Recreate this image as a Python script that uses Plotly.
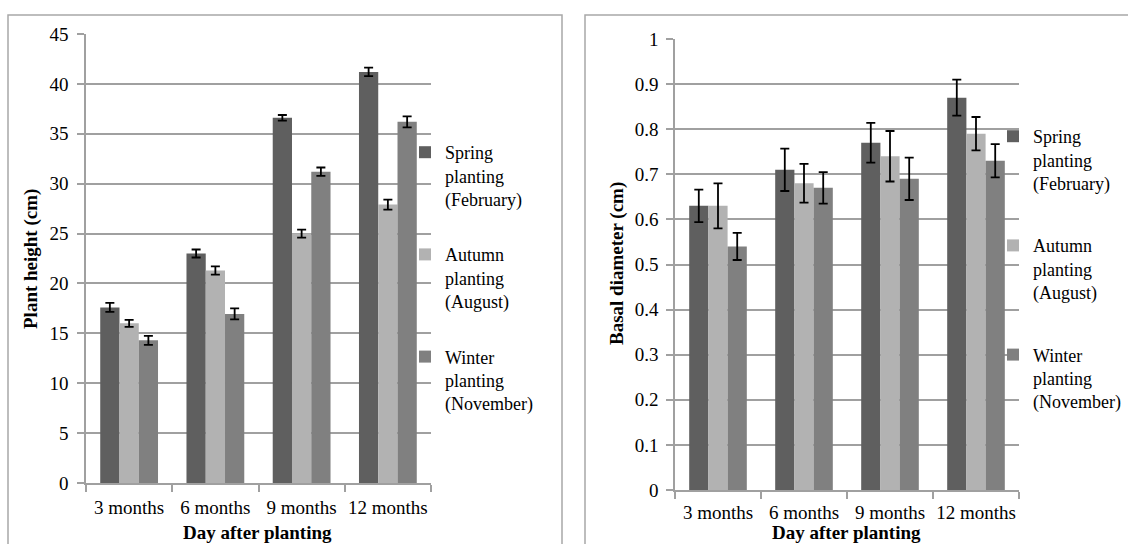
import plotly.graph_objects as go

categories = ["3 months", "6 months", "9 months", "12 months"]
series_names = ["Spring<br>planting<br>(February)", "Autumn<br>planting<br>(August)", "Winter<br>planting<br>(November)"]

height_spring = [17.6, 23.0, 36.6, 41.2]
height_autumn = [16.0, 21.3, 25.0, 27.9]
height_winter = [14.3, 16.95, 31.2, 36.2]
height_err_spring = [0.45, 0.4, 0.28, 0.42]
height_err_autumn = [0.35, 0.42, 0.4, 0.5]
height_err_winter = [0.45, 0.55, 0.42, 0.55]

diam_spring = [0.63, 0.71, 0.77, 0.87]
diam_autumn = [0.63, 0.68, 0.74, 0.79]
diam_winter = [0.54, 0.67, 0.69, 0.73]
diam_err_spring = [0.036, 0.047, 0.044, 0.04]
diam_err_autumn = [0.05, 0.043, 0.056, 0.037]
diam_err_winter = [0.03, 0.035, 0.047, 0.037]

colors = ["#5f5f5f", "#b2b2b2", "#808080"]

W, H = 1128, 544
FONT = "Liberation Serif"

fig = go.Figure()

left_vals = [height_spring, height_autumn, height_winter]
left_errs = [height_err_spring, height_err_autumn, height_err_winter]
right_vals = [diam_spring, diam_autumn, diam_winter]
right_errs = [diam_err_spring, diam_err_autumn, diam_err_winter]

for i in range(3):
    fig.add_trace(go.Bar(
        x=categories, y=left_vals[i], name=series_names[i],
        marker=dict(color=colors[i], line=dict(width=0)),
        error_y=dict(type="data", array=left_errs[i], color="black", thickness=1.8, width=4.5),
        xaxis="x", yaxis="y", legend="legend", legendgroup="L%d" % i,
    ))
for i in range(3):
    fig.add_trace(go.Bar(
        x=categories, y=right_vals[i], name=series_names[i],
        marker=dict(color=colors[i], line=dict(width=0)),
        error_y=dict(type="data", array=right_errs[i], color="black", thickness=1.8, width=4.5),
        xaxis="x2", yaxis="y2", legend="legend2", legendgroup="R%d" % i,
    ))

def px(x):
    return x / W

def py(y):
    return 1 - y / H

grid = "#a0a0a0"

def tf():
    return dict(family=FONT, size=19, color="black")

def xcommon():
    return dict(
        type="category", showline=True, linecolor=grid, linewidth=1.5,
        ticks="outside", tickson="boundaries", ticklen=7, tickcolor=grid, tickwidth=1.5,
        tickfont=tf(), showgrid=False, fixedrange=True, range=[-0.5, 3.5], tickangle=0,
        automargin=False,
    )

def ycommon():
    return dict(
        showline=True, linecolor=grid, linewidth=1.5, ticks="outside", ticklen=7,
        tickcolor=grid, tickwidth=1.5, showgrid=True, gridcolor=grid, gridwidth=1.5,
        tickfont=tf(), zeroline=False, automargin=False,
    )

fig.update_layout(
    width=W, height=H,
    margin=dict(l=0, r=0, t=0, b=0, autoexpand=False),
    paper_bgcolor="white", plot_bgcolor="white",
    barmode="group", bargap=0.33, bargroupgap=0,
    font=dict(family=FONT, size=19, color="black"),
    xaxis=dict(domain=[px(86), px(431)], anchor="y", ticklabelstandoff=6, **xcommon()),
    yaxis=dict(domain=[py(483), py(34)], anchor="x", range=[0, 45], dtick=5,
               ticklabelstandoff=5, **ycommon()),
    xaxis2=dict(domain=[px(675), px(1019)], anchor="y2", ticklabelstandoff=4, **xcommon()),
    yaxis2=dict(domain=[py(490), py(39)], anchor="x2", range=[0, 1], dtick=0.1,
                tickformat=".1~f", ticklabelstandoff=4, **ycommon()),
    legend=dict(x=px(405), y=py(134), xanchor="left", yanchor="top",
                font=dict(family=FONT, size=18, color="black"), valign="top",
                tracegroupgap=29, bgcolor="rgba(0,0,0,0)", traceorder="grouped"),
    legend2=dict(x=px(993), y=py(118), xanchor="left", yanchor="top",
                 font=dict(family=FONT, size=18, color="black"), valign="top",
                 tracegroupgap=36, bgcolor="rgba(0,0,0,0)", traceorder="grouped"),
    showlegend=True,
)

# panel borders
fig.add_shape(type="rect", xref="paper", yref="paper", x0=px(8), x1=px(562), y0=py(570), y1=py(15),
              line=dict(color="#a8a8a8", width=1.5), fillcolor="rgba(0,0,0,0)", layer="below")
fig.add_shape(type="rect", xref="paper", yref="paper", x0=px(585), x1=px(1150), y0=py(570), y1=py(15),
              line=dict(color="#a8a8a8", width=1.5), fillcolor="rgba(0,0,0,0)", layer="below")

# axis titles
tfont = dict(family=FONT, size=19, color="black")
fig.add_annotation(text="<b>Plant height (cm)</b>", xref="paper", yref="paper", x=px(31), y=py(259),
                   xanchor="center", yanchor="middle", textangle=-90, showarrow=False, font=tfont)
fig.add_annotation(text="<b>Basal diameter (cm)</b>", xref="paper", yref="paper", x=px(617), y=py(264),
                   xanchor="center", yanchor="middle", textangle=-90, showarrow=False, font=tfont)
fig.add_annotation(text="<b>Day after planting</b>", xref="paper", yref="paper", x=px(257), y=py(545),
                   xanchor="center", yanchor="bottom", showarrow=False, font=tfont)
fig.add_annotation(text="<b>Day after planting</b>", xref="paper", yref="paper", x=px(846), y=py(545),
                   xanchor="center", yanchor="bottom", showarrow=False, font=tfont)

fig.write_html("out.html")
